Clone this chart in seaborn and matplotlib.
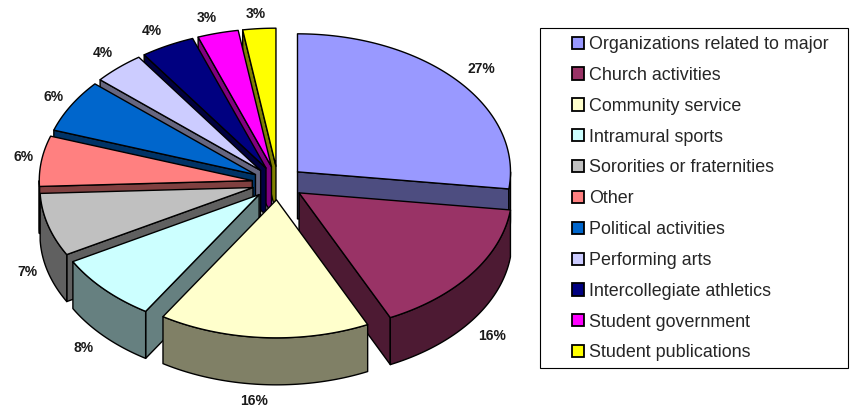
import numpy as np
import matplotlib
matplotlib.use("Agg")
import matplotlib.pyplot as plt
from matplotlib.colors import to_rgb
from matplotlib.patches import Patch, Polygon, Rectangle
import seaborn as sns

# data
activities = ["Organizations related to major", "Church activities", "Community service",
              "Intramural sports", "Sororities or fraternities", "Other", "Political activities",
              "Performing arts", "Intercollegiate athletics", "Student government",
              "Student publications"]
shares = [27, 16, 16, 8, 7.4, 5.9, 6.2, 3.9, 4.1, 3.1, 2.5]
pct_labels = ["27%", "16%", "16%", "8%", "7%", "6%", "6%", "4%", "4%", "3%", "3%"]
colors = ["#9999FF", "#993366", "#FFFFCC", "#CCFFFF", "#C0C0C0", "#FF8080",
          "#0066CC", "#CCCCFF", "#000080", "#FF00FF", "#FFFF00"]

# pie geometry in pixels
CX, CY = 278, 183
RX = 213
TILT = 0.648
DEPTH = 47
EXPLODE = 26
LABEL_R = 238
# small hand corrections for the percent labels
nudge_x = [5, 0, -8, -3, 4, 7, 4, 1, -4, -5, -2]
nudge_y = [-1, 6, 0, 0, -4, -2, -1, -3, 0, 1, 2]

sns.set_style("white")
plt.rcParams['font.family'] = ['Liberation Sans', 'DejaVu Sans']

fig = plt.figure(figsize=(8.5, 4.08), dpi=100)
ax = fig.add_axes([0, 0, 1, 1])
ax.set_xlim(0, 850)
ax.set_ylim(408, 0)
ax.axis("off")


def rim(x0, y0, a, b):
    t = np.radians(np.linspace(a, b, max(int(abs(b - a)) * 2, 2)))
    return np.column_stack([x0 + RX * np.sin(t), y0 - RX * TILT * np.cos(t)])


def face(pts, col, z):
    ax.add_patch(Polygon(pts, closed=True, facecolor=col, edgecolor="black",
                         linewidth=1.0, joinstyle="round", zorder=z))


edges = np.cumsum([0] + shares) / sum(shares) * 360
mids = (edges[:-1] + edges[1:]) / 2

# back slices first so the front ones cover them
order = np.argsort(-np.cos(np.radians(mids)))
for z, i in enumerate(order):
    a, b, m = edges[i], edges[i + 1], np.radians(mids[i])
    x0 = CX + EXPLODE * np.sin(m)
    y0 = CY - EXPLODE * TILT * np.cos(m)
    top = to_rgb(colors[i])
    side = tuple(c * 0.5 for c in top)
    apex = np.array([[x0, y0]])
    down = np.array([0, DEPTH])

    # cut faces, only the ones turned towards the viewer
    if np.sin(np.radians(a)) < 0:
        p = np.vstack([apex, rim(x0, y0, a, a)[:1]])
        face(np.vstack([p, p[::-1] + down]), side, z)
    if np.sin(np.radians(b)) > 0:
        p = np.vstack([apex, rim(x0, y0, b, b)[:1]])
        face(np.vstack([p, p[::-1] + down]), side, z)

    # outer wall
    lo, hi = max(a, 90), min(b, 270)
    if hi > lo:
        p = rim(x0, y0, lo, hi)
        face(np.vstack([p, p[::-1] + down]), side, z)

    face(np.vstack([apex, rim(x0, y0, a, b)]), top, z)

    # percent label
    lx = x0 + LABEL_R * np.sin(m) + nudge_x[i]
    ly = y0 - LABEL_R * TILT * np.cos(m) + nudge_y[i]
    if np.cos(m) < 0:
        ly += DEPTH
    ax.text(lx, ly, pct_labels[i], fontsize=10, fontweight="bold", color="#1a1a1a",
            ha="center", va="center", zorder=100)

# legend box
ax.add_patch(Rectangle((540.5, 27.5), 308, 340, facecolor="white", edgecolor="black",
                       linewidth=0.8, zorder=101))
handles = [Patch(facecolor=c, edgecolor="black", linewidth=1.3) for c in colors]
ax.legend(handles, activities, loc="upper left", bbox_to_anchor=(572, 36),
          bbox_transform=ax.transData, frameon=False, fontsize=12.9, ncol=1,
          handlelength=0.67, handleheight=0.67, handletextpad=0.28,
          labelspacing=0.773, borderpad=0, borderaxespad=0).set_zorder(102)

fig.savefig("out.png", dpi=100)
